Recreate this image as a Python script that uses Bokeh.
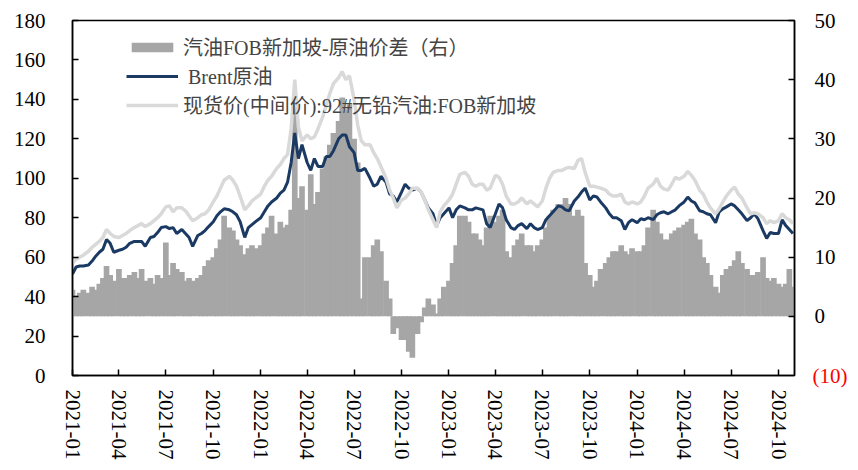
import math
from datetime import datetime
from bokeh.plotting import figure
from bokeh.models import (Range1d, LinearAxis, FixedTicker, MonthsTicker, DatetimeTickFormatter,
                          Legend, LegendItem, ColumnDataSource)
from bokeh.embed import file_html
from bokeh.resources import INLINE

# ---- data ----
months = [(y, m) for y in range(2021, 2025) for m in range(1, 13) if not (y == 2024 and m > 10)]
week_days = [1, 8, 15, 22]
dates = [datetime(y, m, d) for (y, m) in months for d in week_days] + [datetime(2024, 10, 29)]

brent = [
    51.5, 55, 55.5, 55.5, 56, 58, 60.5, 62.5, 64, 69, 67, 62.5, 63.5, 64, 65, 67,
    68, 68, 68, 65.5, 70, 70.5, 72.5, 75, 75.5, 74.5, 75, 72, 74, 72, 70, 65.5,
    71, 72, 73.5, 75.5, 78, 81, 83, 84.5, 84, 83, 81.5, 78, 70, 75, 76.5, 78,
    80, 83, 86, 88, 90, 92.5, 94, 98, 108, 123, 110, 117, 108, 104, 110, 106,
    106, 111, 111, 114, 120, 122, 122, 116, 113, 104, 104, 105, 100, 96, 97, 101,
    98, 92, 91, 88, 93, 97, 95, 94, 95, 93, 89, 85, 82, 76, 80, 82,
    85, 80, 84, 86, 85, 84, 84, 85, 84.5, 84, 77, 75, 82, 87, 85, 79,
    75, 74, 76, 77, 74.5, 77, 75, 74, 75, 79, 81, 83, 86, 85.5, 84, 83.5,
    88.5, 90.5, 93, 95, 89, 91, 90.5, 88, 85, 82, 80, 80, 78.5, 74, 77.5, 79,
    77.5, 79.5, 79, 80, 79, 81.5, 82.5, 83, 82, 83, 84, 86, 88, 90.5, 88.5, 87.5,
    83.5, 83, 82, 81.5, 77.5, 83, 84.5, 85.5, 87, 86, 84, 82, 78.5, 80, 82, 79.5,
    73.5, 69.5, 72.5, 72, 72, 79, 76, 74, 72,
]

gasoline = [
    57, 59, 60, 61, 63, 65, 66.5, 68, 70, 74, 72, 70.5, 70, 71, 72, 73.5,
    75, 76, 77, 75.5, 77, 78.5, 80, 82, 85.5, 86, 83, 85, 85, 83.5, 81, 78.5,
    80, 81.5, 82, 84, 88, 91, 95, 99, 101, 99, 96, 91, 84, 86, 88.5, 90,
    92, 96, 99, 101, 105, 107, 110, 112, 125, 150, 126, 119, 122, 120, 121, 125,
    131, 137, 143, 148, 151, 154, 150, 152, 140, 127, 119, 117, 117, 113, 110, 106,
    100, 94, 90, 85, 89, 90, 92, 95, 95, 93, 89, 84, 79, 75, 83, 86,
    89, 92, 97, 102, 103, 101, 97, 96, 97, 97, 94, 95, 101.5, 100.5, 97, 91,
    87, 87, 88, 90, 87, 88.5, 87, 85.5, 88.5, 95, 100, 103, 104, 104, 105, 105.5,
    105, 109, 110, 103, 96, 96, 95.5, 95, 94, 92, 91, 91, 92, 88, 87, 88,
    87, 88, 91, 95, 97, 100, 96, 94.5, 94, 97, 100.5, 99.5, 101, 103.5, 101.5, 99,
    94, 92, 88, 85, 82, 84.5, 88, 91, 94, 95.5, 92, 90, 85, 82, 82.5, 82,
    80, 77, 78.5, 77.5, 78.5, 82, 80, 79, 77,
]

spread = [
    4.5, 3.5, 4.0, 4.5, 4.0, 5.0, 4.5, 5.5, 6.5, 8.5, 7.0, 6.0, 8.0, 6.5, 6.5, 7.0,
    7.5, 6.5, 8.0, 6.0, 6.5, 5.5, 7.0, 6.5, 12.5, 7.0, 9.0, 8.0, 7.5, 6.0, 6.5, 6.0,
    6.5, 7.0, 8.5, 9.5, 10, 11.5, 13, 17, 15, 14.5, 13, 12, 10.5, 11.5, 12, 11.5,
    12, 14, 15, 17, 14, 16, 15, 15.5, 18, 36, 20, 22, 18, 24, 19, 21,
    25, 27, 29, 31, 33, 37, 35, 36, 30, 26, 3, 10, 10, 12, 13, 11,
    6, 3, -3, -2, -4, -4, -6, -7, -3, -1, 1.5, 3, 2, 0.5, 3, 5,
    6, 9, 12, 17, 17, 16, 14, 14, 13, 12, 15, 17, 16, 17, 18, 11,
    10, 12, 13, 14, 12, 12, 11, 12, 13, 15, 17, 18, 19, 19, 20, 19,
    17, 18, 17, 9, 7, 5, 6, 8, 9, 10, 11, 11, 12, 11, 10.5, 11.5,
    11, 11, 12, 15, 18, 16, 14, 13, 13, 14, 14.5, 15, 15.5, 16, 16.5, 14,
    13, 10, 9, 7, 5, 4, 7, 8, 8.5, 9.5, 11, 9, 8, 7, 7, 7.5,
    10, 6.5, 6, 6.5, 5.5, 5, 5.5, 8, 5,
]

left_ticks = [0, 20, 40, 60, 80, 100, 120, 140, 160, 180]
right_ticks = [0, 10, 20, 30, 40, 50]
right_neg_ticks = [-10]
right_neg_labels = {-10: "(10)"}
x_start = datetime(2021, 1, 1)
x_end = datetime(2024, 11, 1)

label_spread = "汽油FOB新加坡-原油价差（右）"
label_brent = " Brent原油"
label_gas = "现货价(中间价):92#无铅汽油:FOB新加坡"

# ---- styling ----
FONT = "'Liberation Serif', 'Noto Sans CJK SC', serif"
C_BAR = "#A6A6A6"
C_BRENT = "#1B3A63"
C_GAS = "#D9D9D9"

src = ColumnDataSource(dict(date=dates, brent=brent, gas=gasoline, spread=spread))

p = figure(width=850, height=466, x_axis_type="datetime", output_backend="svg",
           toolbar_location=None, title=None,
           x_range=Range1d(x_start, x_end), y_range=Range1d(left_ticks[0], left_ticks[-1]),
           min_border_left=72, min_border_right=53, min_border_top=20, min_border_bottom=91)
p.extra_y_ranges = {"right": Range1d(right_neg_ticks[0], right_ticks[-1])}
p.background_fill_color = "white"
p.border_fill_color = "white"
p.outline_line_color = "black"
p.outline_line_width = 1.5
p.xgrid.visible = False
p.ygrid.visible = False

day_ms = 86400000
bars = p.vbar(x="date", top="spread", bottom=0, width=11 * day_ms, source=src,
              y_range_name="right", fill_color=C_BAR, line_color=None)
l_brent = p.line("date", "brent", source=src, line_color=C_BRENT, line_width=3)
l_gas = p.line("date", "gas", source=src, line_color=C_GAS, line_width=3.5)

def style_axis(ax, standoff, color="black"):
    ax.major_tick_in = 6
    ax.major_tick_out = 0
    ax.minor_tick_in = 0
    ax.minor_tick_out = 0
    ax.axis_line_color = "black"
    ax.axis_line_width = 1.5
    ax.major_tick_line_color = "black"
    ax.major_tick_line_width = 1.5
    ax.major_label_text_font = FONT
    ax.major_label_text_font_size = "21px"
    ax.major_label_text_color = color
    ax.major_label_standoff = standoff

xa = p.xaxis[0]
xa.ticker = MonthsTicker(months=[0, 3, 6, 9])  # Jan/Apr/Jul/Oct (0-based)
xa.formatter = DatetimeTickFormatter(months="%Y-%m", days="%Y-%m", years="%Y-%m")
xa.major_label_orientation = -math.pi / 2
style_axis(xa, 14)

ya = p.yaxis[0]
ya.ticker = FixedTicker(ticks=left_ticks)
style_axis(ya, 27)

ra = LinearAxis(y_range_name="right", ticker=FixedTicker(ticks=right_ticks))
style_axis(ra, 20)
p.add_layout(ra, "right")

# red "(10)" for the right-axis minimum: a second right axis stacked outside the
# first one, whose label is pulled back next to the frame with a negative standoff
ra_neg = LinearAxis(y_range_name="right", ticker=FixedTicker(ticks=right_neg_ticks),
                    major_label_overrides=right_neg_labels)
style_axis(ra_neg, -26, color="#FF0000")
ra_neg.axis_line_color = None
ra_neg.major_tick_line_color = None
p.add_layout(ra_neg, "right")

legend = Legend(items=[LegendItem(label=label_spread, renderers=[bars]),
                       LegendItem(label=label_brent, renderers=[l_brent]),
                       LegendItem(label=label_gas, renderers=[l_gas])],
                location=(54, 256), orientation="vertical",
                background_fill_alpha=0, border_line_alpha=0,
                glyph_width=52, glyph_height=12, label_height=24, spacing=0,
                padding=0, margin=0, label_standoff=5,
                label_text_font=FONT, label_text_font_size="20px")
p.add_layout(legend)

open("out.html", "w").write(file_html(p, INLINE))
